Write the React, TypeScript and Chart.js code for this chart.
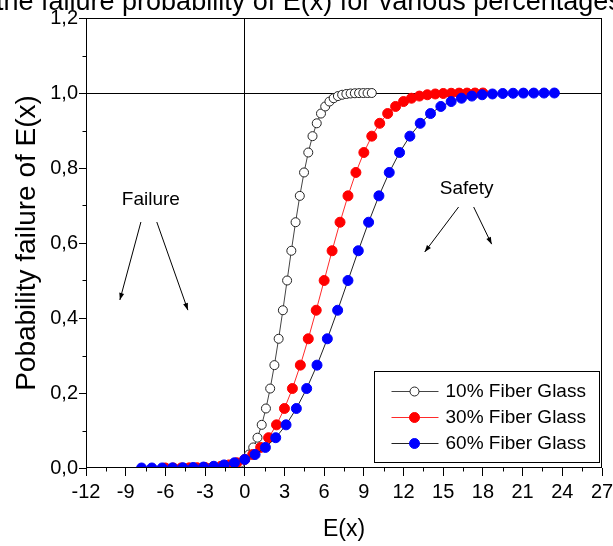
import React, { useEffect, useRef } from "react";
import { Chart, registerables } from "chart.js";

Chart.register(...registerables);

const titleText = "the failure probability of E(x) for various percentages";
const xAxisTitle = "E(x)";
const yAxisTitle = "Pobability failure of E(x)";
const seriesNames = ["10% Fiber Glass", "30% Fiber Glass", "60% Fiber Glass"];

const x10 = [-3.2, -2.88, -2.56, -2.24, -1.92, -1.6, -1.28, -0.96, -0.64, -0.32, 0, 0.32, 0.64, 0.96, 1.28, 1.6, 1.92, 2.24, 2.56, 2.88, 3.2, 3.52, 3.84, 4.16, 4.48, 4.8, 5.12, 5.44, 5.76, 6.08, 6.4, 6.72, 7.04, 7.36, 7.68, 8.0, 8.32, 8.64, 8.96, 9.28, 9.6];
const x30 = [-6, -5.4, -4.8, -4.2, -3.6, -3.0, -2.4, -1.8, -1.2, -0.6, 0, 0.6, 1.2, 1.8, 2.4, 3.0, 3.6, 4.2, 4.8, 5.4, 6.0, 6.6, 7.2, 7.8, 8.4, 9.0, 9.6, 10.2, 10.8, 11.4, 12.0, 12.6, 13.2, 13.8, 14.4, 15.0, 15.6, 16.2, 16.8, 17.4, 18.0];
const x60 = [-7.8, -7.02, -6.24, -5.46, -4.68, -3.9, -3.12, -2.34, -1.56, -0.78, 0, 0.78, 1.56, 2.34, 3.12, 3.9, 4.68, 5.46, 6.24, 7.02, 7.8, 8.58, 9.36, 10.14, 10.92, 11.7, 12.48, 13.26, 14.04, 14.82, 15.6, 16.38, 17.16, 17.94, 18.72, 19.5, 20.28, 21.06, 21.84, 22.62, 23.4];
const failureProbability = [0.00003, 0.00007, 0.00016, 0.00034, 0.00069, 0.00135, 0.00256, 0.00466, 0.0082, 0.0139, 0.0228, 0.0359, 0.0548, 0.0808, 0.1151, 0.1587, 0.2119, 0.2743, 0.3446, 0.4207, 0.5, 0.5793, 0.6554, 0.7257, 0.7881, 0.8413, 0.8849, 0.9192, 0.9452, 0.9641, 0.9772, 0.9861, 0.9918, 0.9953, 0.9974, 0.9987, 0.9993, 0.9997, 0.9998, 0.9999, 1.0];

const xMin = -12;
const xMax = 27;
const xStep = 3;
const yMin = 0;
const yMax = 1.2;
const yStep = 0.2;

const annotationNotes = [
  { label: "Failure", x: -7.1, y: 0.715, arrows: [[-7.85, 0.656, -9.44, 0.448], [-6.65, 0.656, -4.3, 0.421]] },
  { label: "Safety", x: 16.77, y: 0.744, arrows: [[16.16, 0.696, 13.6, 0.576], [17.3, 0.696, 18.66, 0.597]] },
];

const FONT = "'Liberation Sans', Arial, sans-serif";
const W = 640;
const H = 546;

const seriesStyles = [
  { fill: "#ffffff", stroke: "#222222", line: "#444444", r: 4.5 },
  { fill: "#ff0000", stroke: "#ff0000", line: "#ff2a2a", r: 5 },
  { fill: "#0000ff", stroke: "#0000ff", line: "#222222", r: 5 },
];

function drawMarker(ctx: CanvasRenderingContext2D, x: number, y: number, s: any) {
  ctx.beginPath();
  ctx.arc(x, y, s.r, 0, Math.PI * 2);
  ctx.fillStyle = s.fill;
  ctx.fill();
  ctx.lineWidth = 1;
  ctx.strokeStyle = s.stroke;
  ctx.stroke();
}

const decorPlugin = {
  id: "decor",
  afterDraw(chart: any) {
    const { ctx, chartArea: ca, scales } = chart;
    const xs = scales.x;
    const ys = scales.y;
    ctx.save();
    const L = Math.round(ca.left) + 0.5;
    const R = Math.round(ca.right) - 0.5;
    const T = Math.round(ca.top) + 0.5;
    const B = Math.round(ca.bottom) - 0.5;
    ctx.strokeStyle = "#000";
    ctx.lineWidth = 1;
    ctx.strokeRect(L, T, R - L, B - T);

    // minor ticks
    ctx.beginPath();
    for (let v = xMin + xStep / 2; v < xMax; v += xStep) {
      const px = Math.round(xs.getPixelForValue(v)) + 0.5;
      ctx.moveTo(px, B);
      ctx.lineTo(px, B + 4);
    }
    for (let v = yMin + yStep / 2; v < yMax; v += yStep) {
      const py = Math.round(ys.getPixelForValue(v)) + 0.5;
      ctx.moveTo(L, py);
      ctx.lineTo(L - 4, py);
    }
    ctx.stroke();

    // title (clipped at the top like the reference)
    ctx.fillStyle = "#000";
    ctx.font = `27px ${FONT}`;
    ctx.textAlign = "left";
    ctx.textBaseline = "alphabetic";
    ctx.fillText(titleText, -4, 10);

    // axis titles
    ctx.font = `23px ${FONT}`;
    ctx.textAlign = "center";
    ctx.textBaseline = "middle";
    ctx.fillText(xAxisTitle, (ca.left + ca.right) / 2, 530);
    ctx.save();
    ctx.translate(27, (ca.top + ca.bottom) / 2);
    ctx.rotate(-Math.PI / 2);
    ctx.font = `28px ${FONT}`;
    ctx.fillText(yAxisTitle, 0, 0);
    ctx.restore();

    // annotations
    ctx.font = `19px ${FONT}`;
    for (const a of annotationNotes) {
      ctx.fillStyle = "#000";
      ctx.fillText(a.label, xs.getPixelForValue(a.x), ys.getPixelForValue(a.y));
      for (const ar of a.arrows) {
        const x1 = xs.getPixelForValue(ar[0]);
        const y1 = ys.getPixelForValue(ar[1]);
        const x2 = xs.getPixelForValue(ar[2]);
        const y2 = ys.getPixelForValue(ar[3]);
        ctx.beginPath();
        ctx.moveTo(x1, y1);
        ctx.lineTo(x2, y2);
        ctx.strokeStyle = "#000";
        ctx.lineWidth = 1;
        ctx.stroke();
        const ang = Math.atan2(y2 - y1, x2 - x1);
        const len = 7;
        const hw = 2.5;
        ctx.beginPath();
        ctx.moveTo(x2, y2);
        ctx.lineTo(x2 - len * Math.cos(ang) + hw * Math.sin(ang), y2 - len * Math.sin(ang) - hw * Math.cos(ang));
        ctx.lineTo(x2 - len * Math.cos(ang) - hw * Math.sin(ang), y2 - len * Math.sin(ang) + hw * Math.cos(ang));
        ctx.closePath();
        ctx.fillStyle = "#000";
        ctx.fill();
      }
    }

    // legend
    const bl = Math.round(ca.right) - 228 + 0.5;
    const bt = Math.round(ca.bottom) - 97 + 0.5;
    ctx.strokeStyle = "#000";
    ctx.lineWidth = 1;
    ctx.strokeRect(bl, bt, 225, 91);
    ctx.font = `19px ${FONT}`;
    ctx.textAlign = "left";
    ctx.textBaseline = "middle";
    seriesNames.forEach((name, i) => {
      const cy = bt + 19.5 + i * 26;
      const s = seriesStyles[i];
      ctx.beginPath();
      ctx.moveTo(bl + 17, Math.round(cy) + 0.5);
      ctx.lineTo(bl + 64, Math.round(cy) + 0.5);
      ctx.strokeStyle = s.line;
      ctx.lineWidth = 1;
      ctx.stroke();
      drawMarker(ctx, bl + 40, Math.round(cy) + 0.5, s);
      ctx.fillStyle = "#000";
      ctx.fillText(name, bl + 71, cy + 1);
    });
    ctx.restore();
  },
};

export default function App() {
  const ref = useRef<HTMLCanvasElement | null>(null);
  useEffect(() => {
    if (!ref.current) return;
    const xsArr = [x10, x30, x60];
    const datasets = xsArr.map((xv, i) => {
      const s = seriesStyles[i];
      return {
        label: seriesNames[i],
        data: xv.map((x, k) => ({ x, y: failureProbability[k] })),
        showLine: true,
        borderColor: s.line,
        borderWidth: 1,
        pointRadius: s.r,
        pointBackgroundColor: s.fill,
        pointBorderColor: s.stroke,
        pointBorderWidth: 1,
        order: 3 - i,
      };
    });
    const chart = new Chart(ref.current, {
      type: "scatter",
      data: { datasets },
      options: {
        animation: false,
        responsive: false,
        devicePixelRatio: 1,
        layout: { padding: { left: 0, top: 18, right: W - 602, bottom: 0 } },
        plugins: { legend: { display: false }, tooltip: { enabled: false }, title: { display: false } },
        scales: {
          x: {
            type: "linear",
            min: xMin,
            max: xMax,
            afterFit: (axis: any) => { axis.height = H - 468; },
            ticks: {
              stepSize: xStep,
              autoSkip: false,
              maxRotation: 0,
              color: "#000",
              padding: 4,
              font: { family: FONT, size: 20 },
            },
            grid: {
              color: (c: any) => (c.tick && Math.abs(c.tick.value) < 1e-6 ? "#000" : "rgba(0,0,0,0)"),
              tickColor: "#000",
              tickLength: 8,
              lineWidth: 1,
            },
            border: { display: false },
          },
          y: {
            type: "linear",
            min: yMin,
            max: yMax,
            afterFit: (axis: any) => { axis.width = 86; },
            ticks: {
              stepSize: yStep,
              color: "#000",
              padding: 1,
              font: { family: FONT, size: 20 },
              callback: (v: any) => Number(v).toFixed(1).replace(".", ","),
            },
            grid: {
              color: (c: any) => (c.tick && Math.abs(c.tick.value - 1) < 1e-6 ? "#000" : "rgba(0,0,0,0)"),
              tickColor: "#000",
              tickLength: 7,
              lineWidth: 1,
            },
            border: { display: false },
          },
        },
      },
      plugins: [decorPlugin],
    } as any);
    return () => chart.destroy();
  }, []);
  return (
    <div style={{ position: "fixed", left: 0, top: 0, width: 613, height: 546, overflow: "hidden", background: "#fff" }}>
      <canvas ref={ref} width={W} height={H} style={{ width: W, height: H, display: "block" }} />
    </div>
  );
}
